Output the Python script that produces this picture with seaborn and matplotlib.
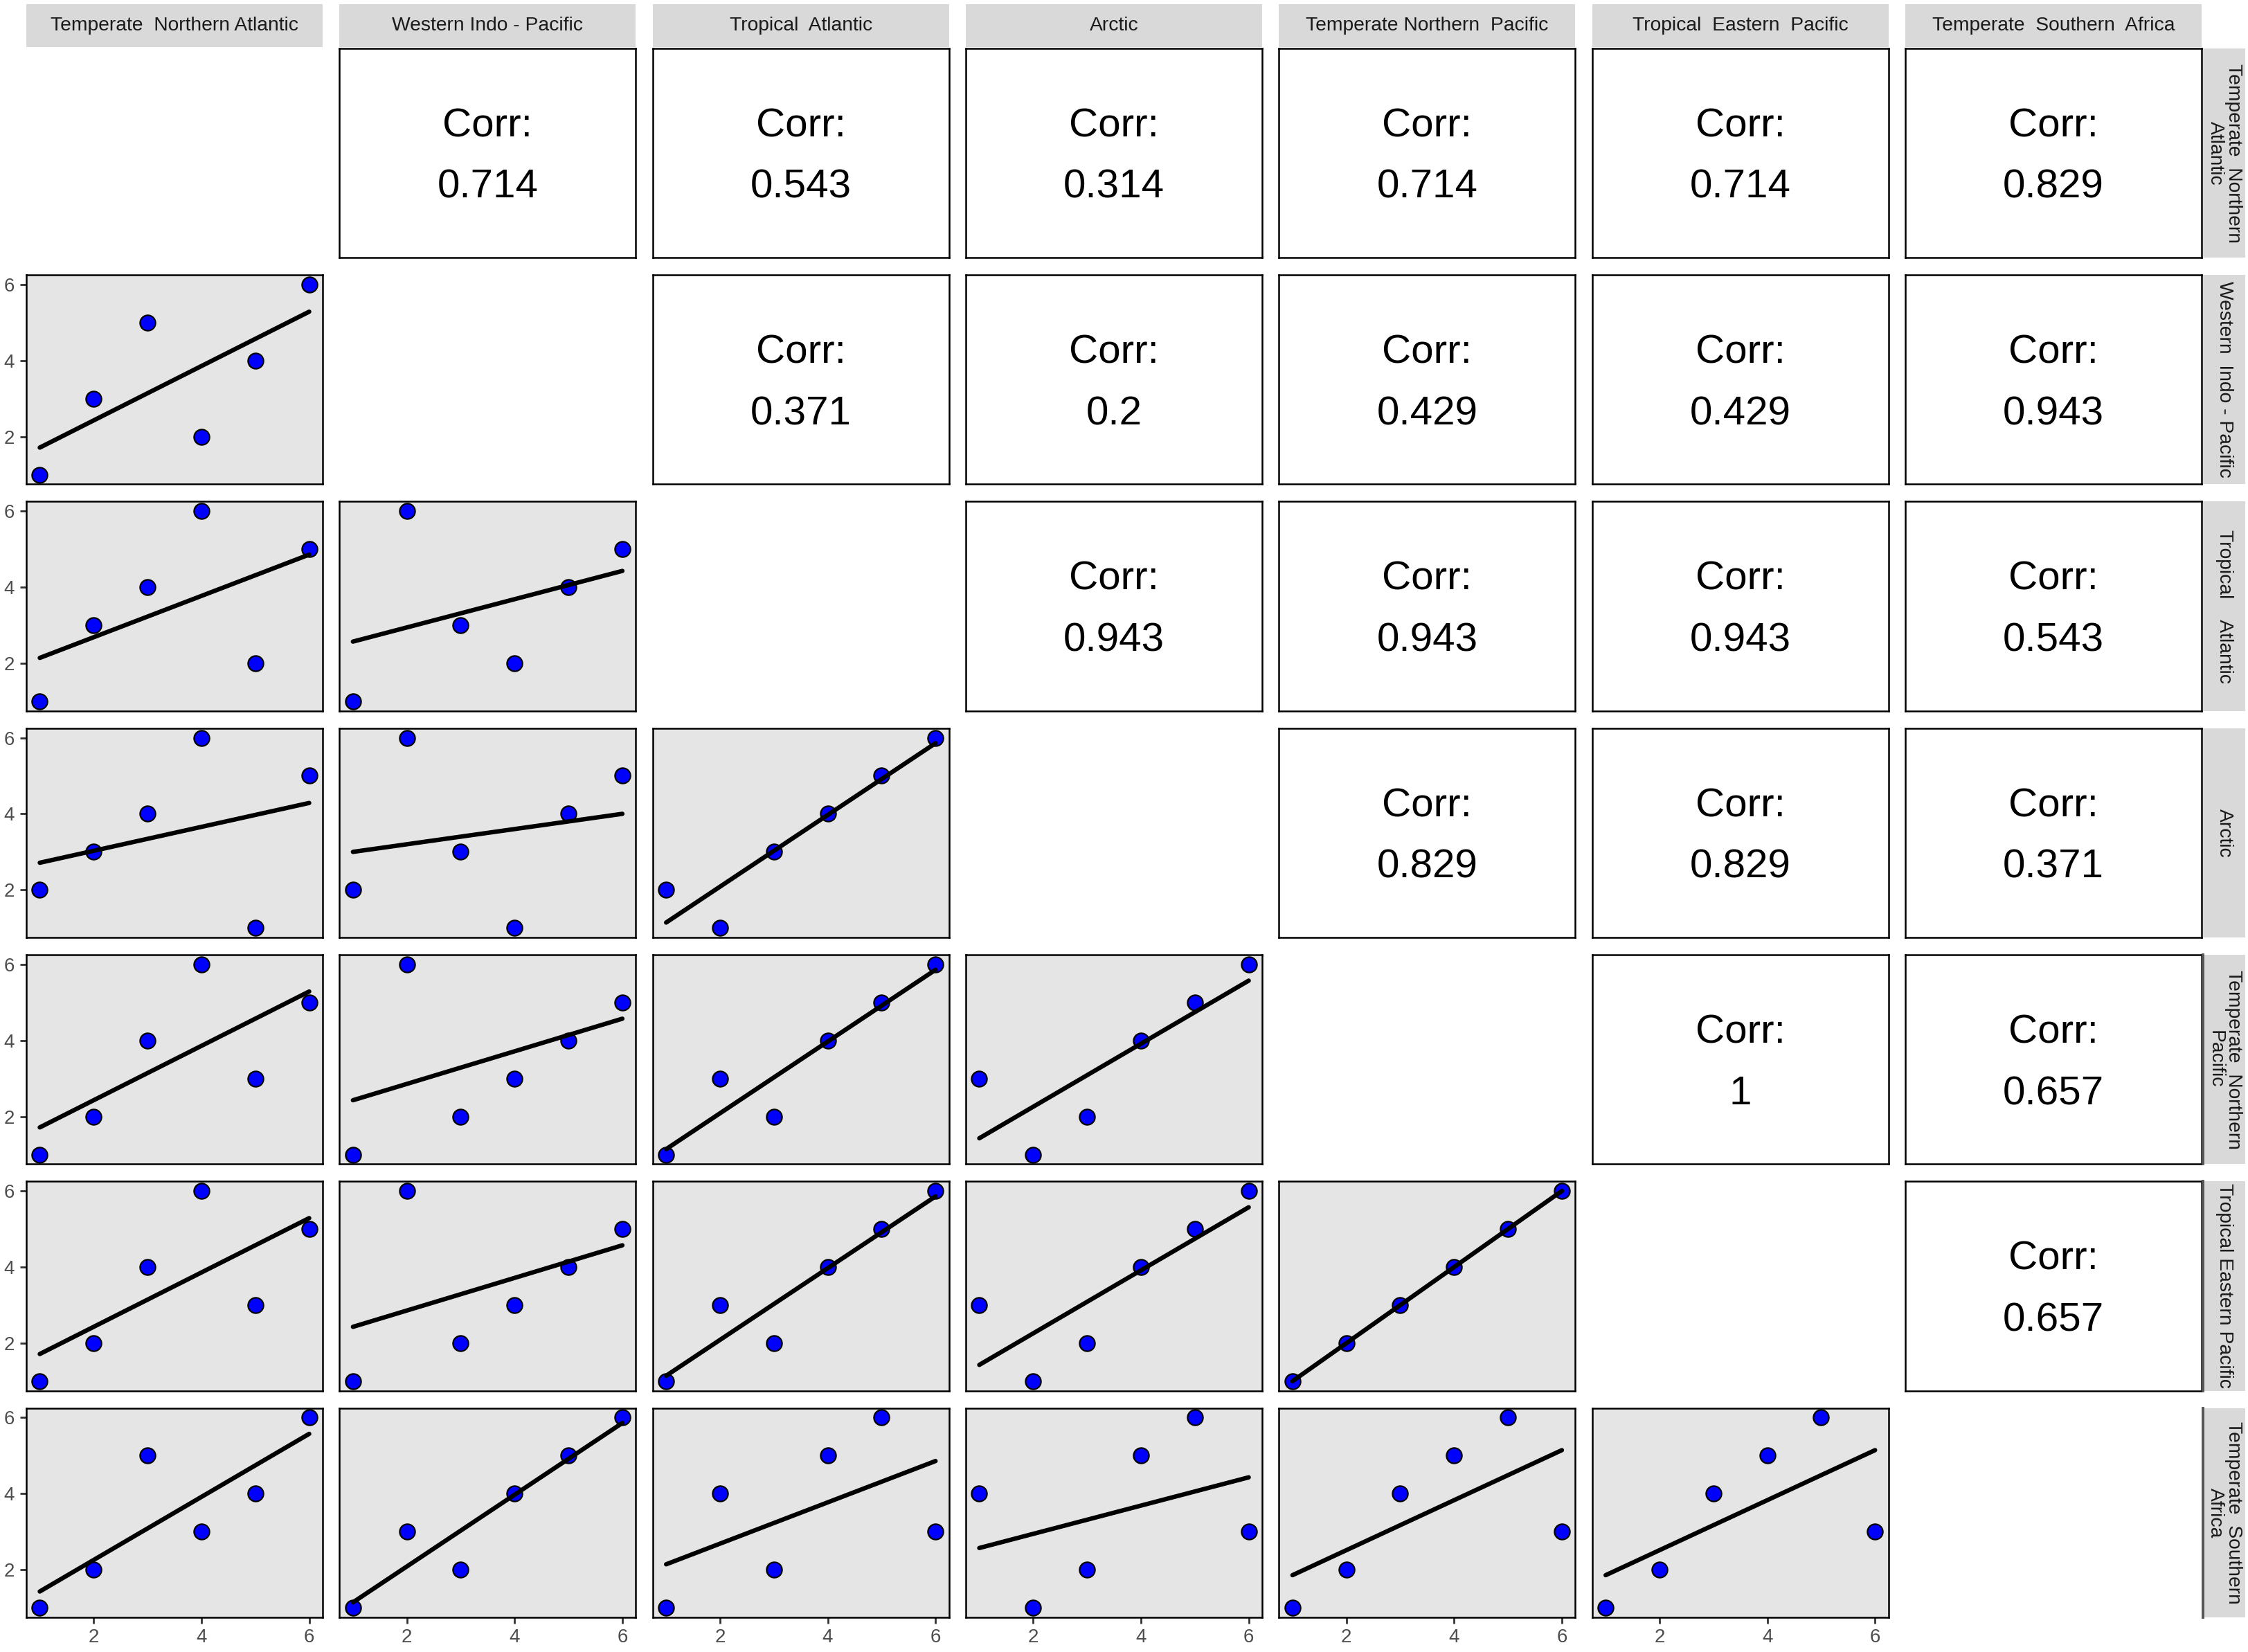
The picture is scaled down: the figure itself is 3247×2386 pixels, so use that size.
import matplotlib.pyplot as plt
import pandas as pd
import seaborn as sns
from matplotlib import font_manager

sns.set_style("white")
plt.rcParams['font.family'] = ['Liberation Sans', 'DejaVu Sans']

# region names as shown in the top and right strips
top_labels = ['Temperate  Northern Atlantic', 'Western Indo - Pacific',
              'Tropical  Atlantic', 'Arctic', 'Temperate Northern  Pacific',
              'Tropical  Eastern  Pacific', 'Temperate  Southern  Africa']
side_labels = ['Temperate  Northern\nAtlantic', 'Western  Indo - Pacific',
               'Tropical    Atlantic', 'Arctic', 'Temperate  Northern\nPacific',
               'Tropical Eastern Pacific', 'Temperate  Southern\nAfrica']

# ranks per region (6 observations)
temperate_northern_atlantic = [1, 2, 3, 4, 5, 6]
western_indo_pacific = [1, 3, 5, 2, 4, 6]
tropical_atlantic = [1, 3, 4, 6, 2, 5]
arctic = [2, 3, 4, 6, 1, 5]
temperate_northern_pacific = [1, 2, 4, 6, 3, 5]
tropical_eastern_pacific = [1, 2, 4, 6, 3, 5]
temperate_southern_africa = [1, 2, 5, 3, 4, 6]

tick_values = [2, 4, 6]

cols = ['TNA', 'WIP', 'TA', 'AR', 'TNP', 'TEP', 'TSA']
df = pd.DataFrame({
    'TNA': temperate_northern_atlantic,
    'WIP': western_indo_pacific,
    'TA': tropical_atlantic,
    'AR': arctic,
    'TNP': temperate_northern_pacific,
    'TEP': tropical_eastern_pacific,
    'TSA': temperate_southern_africa,
})
corr = df.corr()

available = {f.name for f in font_manager.fontManager.ttflist}
if 'Liberation Sans Narrow' in available:
    strip_font = ['Liberation Sans Narrow', 'DejaVu Sans']
    strip_size = 11.5
else:
    strip_font = ['Liberation Sans', 'DejaVu Sans']
    strip_size = 10.2

W, H = 3248, 2386
n = len(cols)
fig, axes = plt.subplots(n, n, figsize=(W / 200, H / 200))
fig.subplots_adjust(left=0.0117, right=0.9791, top=0.9707, bottom=0.021,
                    wspace=0.0568, hspace=0.0828)

for i in range(n):
    for j in range(n):
        ax = axes[i, j]
        if i == j:
            ax.set_axis_off()
            continue
        if i > j:
            ax.set_facecolor('#E5E5E5')
            sns.regplot(data=df, x=cols[j], y=cols[i], ax=ax, ci=None,
                        scatter_kws=dict(s=64, color='#0000FF', edgecolor='black',
                                         linewidths=0.8, alpha=1, zorder=2),
                        line_kws=dict(color='black', lw=2.3, zorder=3))
        else:
            ax.set_facecolor('white')
            ax.text(0.5, 0.628, 'Corr:', transform=ax.transAxes, ha='center',
                    va='center', fontsize=21, color='black')
            ax.text(0.5, 0.335, f'{corr.iloc[i, j]:.3g}', transform=ax.transAxes,
                    ha='center', va='center', fontsize=21, color='black')
        ax.set_xlim(0.75, 6.25)
        ax.set_ylim(0.75, 6.25)
        ax.set_xlabel('')
        ax.set_ylabel('')
        ax.set_xticks(tick_values)
        ax.set_yticks(tick_values)
        ax.tick_params(left=(j == 0), bottom=(i == n - 1),
                       labelleft=(j == 0), labelbottom=(i == n - 1),
                       length=3.3, width=1.0, color='#333333',
                       labelcolor='#4D4D4D', labelsize=10)
        ax.tick_params(axis='y', pad=3)
        ax.tick_params(axis='x', pad=2.5)
        for s in ax.spines.values():
            s.set_visible(True)
            s.set_color('black')
            s.set_linewidth(0.9)

# top strips
for j in range(n):
    pos = axes[0, j].get_position()
    sax = fig.add_axes([pos.x0, pos.y1 + 2 / H, pos.width, 62 / H])
    sax.set_facecolor('#D9D9D9')
    sax.set_xticks([])
    sax.set_yticks([])
    for s in sax.spines.values():
        s.set_visible(False)
    sax.text(0.5, 0.5, top_labels[j], ha='center', va='center',
             fontsize=strip_size, color='#1A1A1A', family=strip_font)

# right strips
for i in range(n):
    pos = axes[i, n - 1].get_position()
    sax = fig.add_axes([pos.x1 + 2 / W, pos.y0, 61 / W, pos.height])
    sax.set_facecolor('#D9D9D9')
    sax.set_xticks([])
    sax.set_yticks([])
    for s in sax.spines.values():
        s.set_visible(False)
    if i >= 4:
        sax.spines['left'].set_visible(True)
        sax.spines['left'].set_color('#555555')
        sax.spines['left'].set_linewidth(1.4)
    sax.text(0.5, 0.5, side_labels[i], ha='center', va='center', rotation=-90,
             multialignment='center', linespacing=1.0,
             fontsize=strip_size, color='#1A1A1A', family=strip_font)

fig.savefig('out.png', dpi=200)
